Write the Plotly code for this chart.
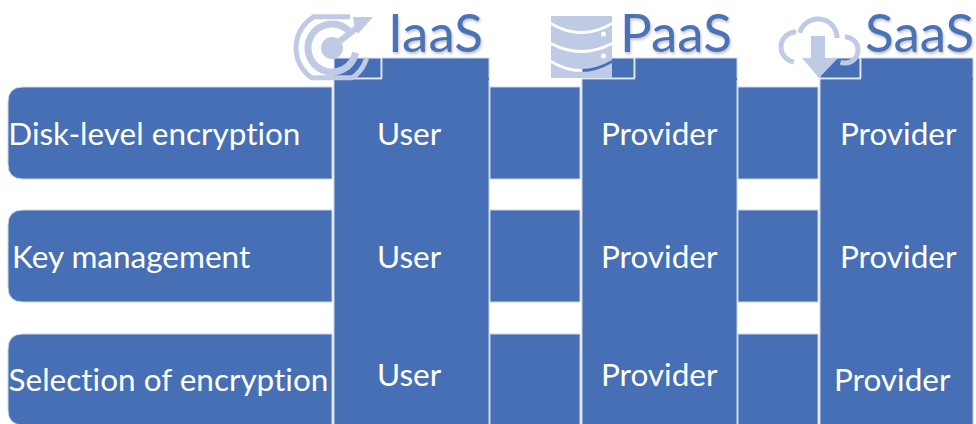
import numpy as np
import plotly.graph_objects as go

# Content
controls = ["Disk-level encryption", "Key management", "Selection of encryption"]
models = ["IaaS", "PaaS", "SaaS"]
responsible = {
    "IaaS": ["User", "User", "User"],
    "PaaS": ["Provider", "Provider", "Provider"],
    "SaaS": ["Provider", "Provider", "Provider"],
}

# Layout
BLUE = "#466FB5"
EDGE = "#C9D4E9"
LIGHT = "#BFCBE5"
HEAD = "#4A72B8"
FONT = "Lato"
row_top = [87, 210, 334]
row_bot = [179, 302, 425]
label_x = [6, 10, 6]
row_text_y = [132.5, 255.5, 378.5]
col_x0 = [334, 582, 820]
col_tab = [381, 634, 860]
col_x1 = [489, 737, 973]
gap_x = [(490, 580), (738, 818)]
col_text_x = {"IaaS": [409, 409, 409], "PaaS": [659.5, 659.5, 659.5], "SaaS": [898.5, 898.5, 892.5]}
col_text_y = {"IaaS": [132.5, 255.5, 373.5], "PaaS": [132.5, 255.5, 373.5], "SaaS": [132.5, 255.5, 378.5]}
head_x = [435, 675.5, 919]

shapes = []


def add_path(path, fill=None, line=None, width=0):
    shapes.append(dict(type="path", path=path, xref="x", yref="y",
                       fillcolor=fill or "rgba(0,0,0,0)",
                       line=dict(color=line or "rgba(0,0,0,0)", width=width)))


def add_rect(x0, y0, x1, y1, fill=BLUE, line=EDGE, width=1):
    shapes.append(dict(type="rect", x0=x0, y0=y0, x1=x1, y1=y1, xref="x", yref="y",
                       fillcolor=fill, line=dict(color=line, width=width)))


def arc(cx, cy, r, a0, a1, ymin=16, ymax=78):
    pts = []
    for a in np.radians(np.arange(a0, a1 + 1, 4)):
        x, y = cx + r * np.cos(a), cy - r * np.sin(a)
        if ymin <= y <= ymax:
            pts.append((x, y))
    return "M" + " L".join(f"{x:.1f},{y:.1f}" for x, y in pts)


# Left rows and connecting blocks
for top, bot in zip(row_top, row_bot):
    r = 15
    add_path(f"M332,{top} L{8 + r},{top} Q8,{top} 8,{top + r} L8,{bot - r} Q8,{bot} {8 + r},{bot} L332,{bot} Z",
             fill=BLUE, line=EDGE, width=1)
    for x0, x1 in gap_x:
        add_rect(x0, top, x1, bot)

# Columns with a tab box at top left
for x0, tab, x1 in zip(col_x0, col_tab, col_x1):
    add_rect(x0, 79, x1, 426)
    add_rect(tab + 1, 58, x1, 79)
    add_rect(x0, 58, tab, 78, line="#E4E9F4")
    shapes.append(dict(type="line", x0=tab + 1, x1=x1, y0=79, y1=79, xref="x", yref="y",
                       line=dict(color=BLUE, width=2)))

# Target icon
add_path(arc(332, 48, 36, 60, 345), line=LIGHT, width=5)
add_path(arc(332, 48, 24, 45, 350), line=LIGHT, width=7)
add_path(arc(332, 48, 11, 0, 360), fill=LIGHT)
add_path("M336,44 L362,24", line=LIGHT, width=6)
add_path("M353,17 L373,17 L358,34 L354,24 Z", fill=LIGHT)

# Database icon
add_path("M551,16 L612,16 L612,22 Q581,40 551,22 Z", fill=LIGHT)
add_path("M551,25 Q581,43 612,25 L612,42 Q581,58 551,42 Z", fill=LIGHT)
add_path("M551,45 Q581,61 612,45 L612,60 Q581,78 551,60 Z", fill=LIGHT)
add_path("M551,63 Q581,81 612,63 L612,78 L551,78 Z", fill=LIGHT)
for y in (34, 56):
    shapes.append(dict(type="circle", x0=601, x1=606, y0=y - 2.5, y1=y + 2.5, xref="x", yref="y",
                       fillcolor="white", line=dict(width=0)))

# Cloud icon
add_path(arc(796, 47, 15, 90, 265, 0, 100), line=LIGHT, width=5)
add_path(arc(818, 38, 19, 0, 165, 0, 100), line=LIGHT, width=5)
add_path(arc(845, 50, 13, -110, 90, 0, 100), line=LIGHT, width=5)
add_path("M811,36 L825,36 L825,58 L838,58 L819,78 L802,58 L811,58 Z", fill=LIGHT)

# Text
annotations = []


def text(x, y, s, size, color, anchor="center", **kw):
    annotations.append(dict(x=x, y=y, text=s, xref="x", yref="y", showarrow=False,
                            xanchor=anchor, yanchor="middle",
                            font=dict(family=FONT, size=size, color=color, **kw)))


for i, c in enumerate(controls):
    text(label_x[i], row_text_y[i], c, 31.5, "white", anchor="left")
for j, m in enumerate(models):
    text(head_x[j], 31, m, 53, HEAD, shadow="1px 2px 3px rgba(0,0,0,0.25)")
    for i, v in enumerate(responsible[m]):
        text(col_text_x[m][i], col_text_y[m][i], v, 31.5, "white")

fig = go.Figure()
fig.update_layout(
    width=976, height=424,
    margin=dict(l=0, r=0, t=0, b=0),
    paper_bgcolor="white", plot_bgcolor="white",
    xaxis=dict(range=[0, 976], visible=False, fixedrange=True),
    yaxis=dict(range=[424, 0], visible=False, fixedrange=True),
    shapes=shapes, annotations=annotations, showlegend=False,
)
fig.write_html(
    "out.html",
    config=dict(displayModeBar=False),
    post_script="document.body.style.margin='0';document.body.style.overflow='hidden';"
                "var s=document.createElement('style');"
                "s.textContent='text{font-variant-ligatures:none !important;}';"
                "document.head.appendChild(s);",
)
